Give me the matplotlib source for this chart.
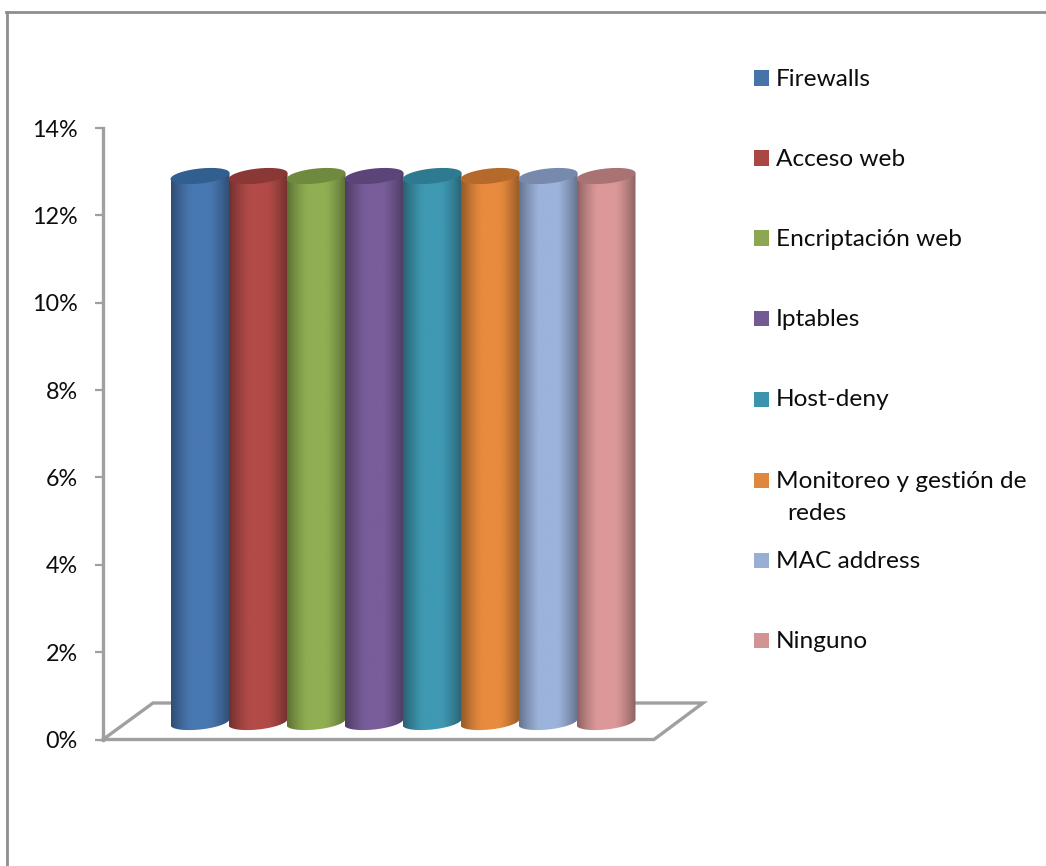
import numpy as np
import matplotlib
matplotlib.use("Agg")
import matplotlib.pyplot as plt
from matplotlib.colors import to_rgb
from matplotlib.patches import PathPatch, Polygon, Rectangle
from matplotlib.path import Path
from matplotlib.ticker import PercentFormatter

plt.rcParams["font.family"] = ["Lato", "DejaVu Sans"]

# Chart content
categories = ["Firewalls", "Acceso web", "Encriptación web", "Iptables", "Host-deny",
              "Monitoreo y gestión de\nredes", "MAC address", "Ninguno"]
shares = [12.5, 12.5, 12.5, 12.5, 12.5, 12.5, 12.5, 12.5]
y_ticks = [0, 2, 4, 6, 8, 10, 12, 14]
body_colors = ["#4878B1", "#B24B48", "#90AF52", "#785D9A", "#3F99B3", "#E88B3F", "#9CB3DB", "#DC9899"]
legend_colors = ["#4674AA", "#AA4644", "#8BA753", "#735A94", "#3E93AC", "#E0873E", "#98AED4", "#D39394"]
cap_colors = ["#315F8F", "#8A3835", "#6F8A3E", "#5A4478", "#2E7A90", "#B56A2B", "#7889AE", "#A97273"]
legend_centers = [78, 158, 238, 318, 399, 496, 560, 640]

W, H = 1046, 866
GRAY = "#A0A0A0"
TEXT = "#0D0D0D"
fig = plt.figure(figsize=(W / 100, H / 100), dpi=100)

# Axes box spans the 3D floor's full width, pixel layout converted to figure fractions
AX_L, AX_R, AX_T, AX_B = 103, 703, 128, 739.5
ax = fig.add_axes([AX_L / W, 1 - AX_B / H, (AX_R - AX_L) / W, (AX_B - AX_T) / H])

STEP = 58.0                    # px between neighbouring cylinders
FIRST = 200.0                  # px centre of the first cylinder
px_x = 1 / STEP                # one pixel in category units
px_y = 14 / (AX_B - AX_T)      # one pixel in percent units
LIFT = 17.5 * px_y             # cylinder base sits on the raised floor
HALF_W = 29.5 * px_x
ELL_B = 7.5 * px_y             # minor half axis of the end ellipses
TILT = 3.0 * px_y              # left end lower, right end higher

x_min = -(FIRST - AX_L) * px_x
x_max = x_min + (AX_R - AX_L) * px_x


def ellipse(cx, cy, t):
    """Points of a slightly tilted cylinder end."""
    return np.column_stack([cx + HALF_W * np.cos(t),
                            cy + ELL_B * np.sin(t) + TILT * np.cos(t)])


# Floor outline of the 3D plot area
floor = Polygon([(0, 0), (551 / 600, 0), (1, 36.5 / 611.5), (50 / 600, 36.5 / 611.5)], closed=True,
                fill=False, edgecolor=GRAY, linewidth=2.4, transform=ax.transAxes, zorder=1, clip_on=False)
ax.add_patch(floor)

shade = np.linspace(-1, 1, 256)
for i, (val, body, cap) in enumerate(zip(shares, body_colors, cap_colors)):
    top = LIFT + val
    # Silhouette: top rim from left to right is covered by the cap, bottom rim closes the body
    lower = ellipse(i, LIFT, np.linspace(0, -np.pi, 60))
    verts = np.vstack([[(i + HALF_W, top + TILT)], lower, [(i - HALF_W, top - TILT)], [(i + HALF_W, top + TILT)]])
    codes = [Path.MOVETO] + [Path.LINETO] * (len(verts) - 2) + [Path.CLOSEPOLY]
    clip = PathPatch(Path(verts, codes), facecolor="none", edgecolor="none", transform=ax.transData)
    ax.add_patch(clip)

    # Horizontal shading: dark rims easing into a flat lighter middle
    amount = np.clip((np.abs(shade) - 0.3) / 0.7, 0, 1) ** 1.25 * 0.36
    rgb = np.array(to_rgb(body))
    row = rgb[None, :] * (1 - amount[:, None])
    im = ax.imshow(row[None, :, :], extent=[i - HALF_W, i + HALF_W, LIFT - 2 * ELL_B, top + 2 * TILT],
                   aspect="auto", interpolation="bilinear", zorder=2 + i * 0.01)
    im.set_clip_path(clip)

    cap_pts = ellipse(i, top, np.linspace(0, 2 * np.pi, 120))
    ax.add_patch(Polygon(cap_pts, closed=True, facecolor=cap, edgecolor="none", zorder=2 + i * 0.01))

ax.set_xlim(x_min, x_max)
ax.set_ylim(0, 14)
ax.set_xticks([])
ax.set_yticks(y_ticks)
ax.yaxis.set_major_formatter(PercentFormatter(decimals=0))
ax.tick_params(axis="y", length=6, width=1.6, color=GRAY, labelsize=16.8, pad=12, labelcolor=TEXT)
for name, spine in ax.spines.items():
    spine.set_visible(name == "left")
ax.spines["left"].set_color(GRAY)
ax.spines["left"].set_linewidth(2.4)
ax.patch.set_visible(False)

# Legend column placed by hand since the wrapped entry keeps the even spacing
for label, color, cy in zip(categories, legend_colors, legend_centers):
    marker_y = cy if "\n" not in label else cy - 16
    fig.add_artist(Rectangle((754 / W, 1 - (marker_y + 7.5) / H), 15 / W, 15 / H, facecolor=color,
                             edgecolor="none", transform=fig.transFigure))
    first, *rest = label.split("\n")
    fig.text(776 / W, 1 - (marker_y + 1) / H, first, fontsize=17.6, va="center", ha="left", color=TEXT)
    for n, extra in enumerate(rest, start=1):
        fig.text(787 / W, 1 - (marker_y + 1 + 32 * n) / H, extra, fontsize=17.6, va="center", ha="left", color=TEXT)

# Chart frame, visible on the top and left edges
fig.add_artist(plt.Line2D([7 / W, 7 / W], [0, 1 - 12 / H], color="#8E8E8E", linewidth=2.0))
fig.add_artist(plt.Line2D([6.3 / W, 1], [1 - 12 / H, 1 - 12 / H], color="#8E8E8E", linewidth=2.0))

fig.savefig("out.png", dpi=100, facecolor="white")
